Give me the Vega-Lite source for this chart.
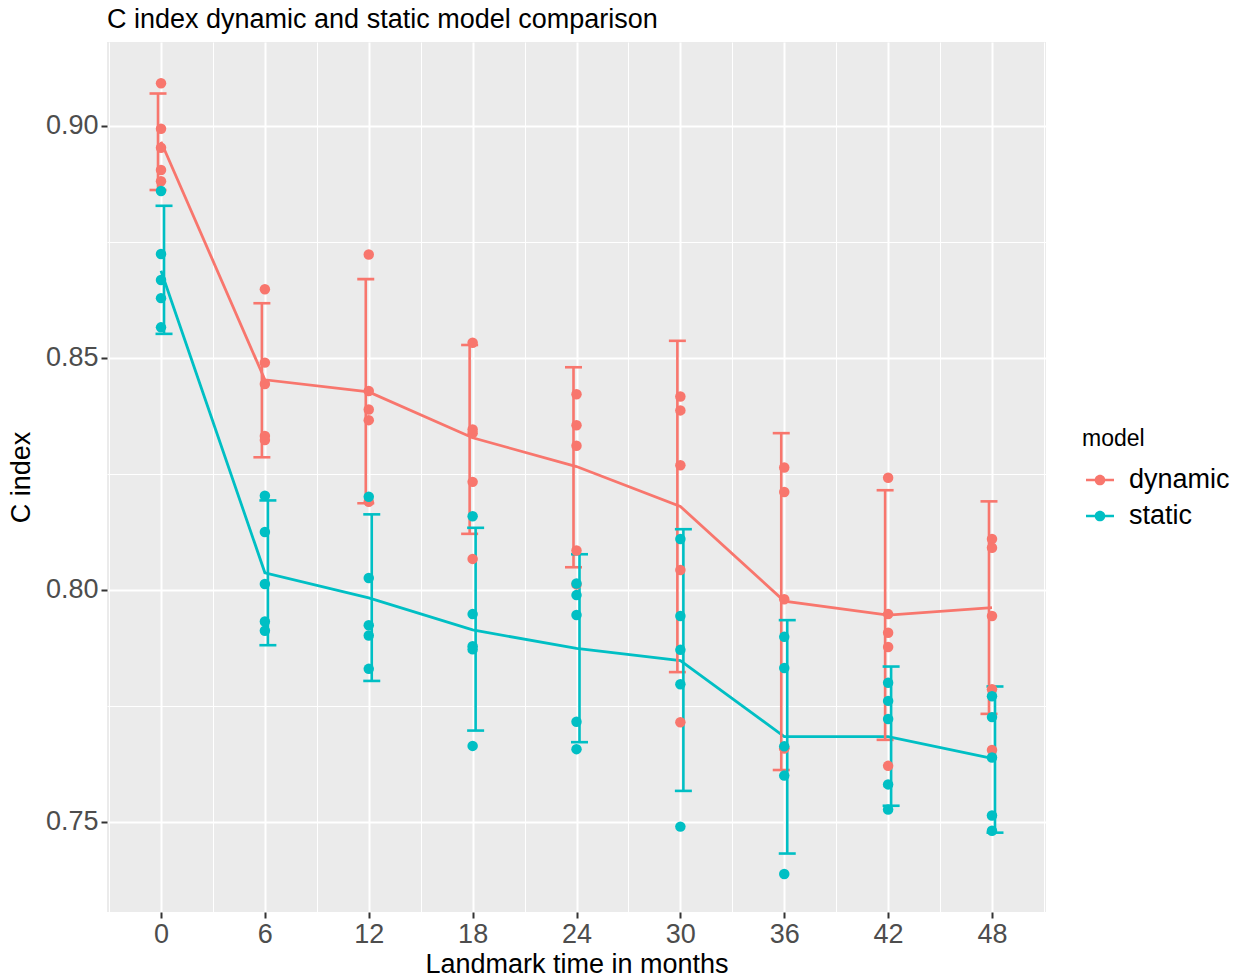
{
  "$schema": "https://vega.github.io/schema/vega-lite/v6.json",
  "width": 939,
  "height": 870,
  "autosize": {"type": "none"},
  "padding": {"left": 107, "top": 42, "right": 194, "bottom": 66},
  "background": "white",
  "title": {
    "text": "C index dynamic and static model comparison",
    "anchor": "start",
    "frame": "group",
    "fontSize": 27,
    "font": "Liberation Sans",
    "fontWeight": "normal",
    "color": "black",
    "baseline": "alphabetic",
    "offset": 15,
    "dy": 28
  },
  "config": {
    "view": {"fill": "#EBEBEB", "stroke": null},
    "font": "Liberation Sans",
    "axis": {
      "domain": false,
      "tickColor": "#333333",
      "tickWidth": 2,
      "tickSize": 6,
      "labelColor": "#4D4D4D",
      "labelFontSize": 27,
      "labelFont": "Liberation Sans",
      "labelPadding": 3,
      "titleFont": "Liberation Sans",
      "titleFontSize": 27,
      "titleFontWeight": "normal",
      "titleColor": "black",
      "gridColor": "white",
      "gridWidth": 2
    }
  },
  "datasets": {
    "pts": [
      {"month": 0, "model": "dynamic", "cindex": 0.9092},
      {"month": 0, "model": "dynamic", "cindex": 0.8994},
      {"month": 0, "model": "dynamic", "cindex": 0.8953},
      {"month": 0, "model": "dynamic", "cindex": 0.8905},
      {"month": 0, "model": "dynamic", "cindex": 0.8881},
      {"month": 6, "model": "dynamic", "cindex": 0.8648},
      {"month": 6, "model": "dynamic", "cindex": 0.8490},
      {"month": 6, "model": "dynamic", "cindex": 0.8444},
      {"month": 6, "model": "dynamic", "cindex": 0.8332},
      {"month": 6, "model": "dynamic", "cindex": 0.8323},
      {"month": 12, "model": "dynamic", "cindex": 0.8723},
      {"month": 12, "model": "dynamic", "cindex": 0.8429},
      {"month": 12, "model": "dynamic", "cindex": 0.8389},
      {"month": 12, "model": "dynamic", "cindex": 0.8366},
      {"month": 12, "model": "dynamic", "cindex": 0.8190},
      {"month": 18, "model": "dynamic", "cindex": 0.8533},
      {"month": 18, "model": "dynamic", "cindex": 0.8346},
      {"month": 18, "model": "dynamic", "cindex": 0.8338},
      {"month": 18, "model": "dynamic", "cindex": 0.8233},
      {"month": 18, "model": "dynamic", "cindex": 0.8067},
      {"month": 24, "model": "dynamic", "cindex": 0.8422},
      {"month": 24, "model": "dynamic", "cindex": 0.8355},
      {"month": 24, "model": "dynamic", "cindex": 0.8311},
      {"month": 24, "model": "dynamic", "cindex": 0.8085},
      {"month": 24, "model": "dynamic", "cindex": 0.8012},
      {"month": 30, "model": "dynamic", "cindex": 0.8417},
      {"month": 30, "model": "dynamic", "cindex": 0.8387},
      {"month": 30, "model": "dynamic", "cindex": 0.8269},
      {"month": 30, "model": "dynamic", "cindex": 0.8043},
      {"month": 30, "model": "dynamic", "cindex": 0.7715},
      {"month": 36, "model": "dynamic", "cindex": 0.8264},
      {"month": 36, "model": "dynamic", "cindex": 0.8211},
      {"month": 36, "model": "dynamic", "cindex": 0.7980},
      {"month": 36, "model": "dynamic", "cindex": 0.7659},
      {"month": 36, "model": "dynamic", "cindex": 0.7659},
      {"month": 42, "model": "dynamic", "cindex": 0.8242},
      {"month": 42, "model": "dynamic", "cindex": 0.7948},
      {"month": 42, "model": "dynamic", "cindex": 0.7908},
      {"month": 42, "model": "dynamic", "cindex": 0.7877},
      {"month": 42, "model": "dynamic", "cindex": 0.7621},
      {"month": 48, "model": "dynamic", "cindex": 0.8110},
      {"month": 48, "model": "dynamic", "cindex": 0.8091},
      {"month": 48, "model": "dynamic", "cindex": 0.7944},
      {"month": 48, "model": "dynamic", "cindex": 0.7786},
      {"month": 48, "model": "dynamic", "cindex": 0.7655},
      {"month": 0, "model": "static", "cindex": 0.8860},
      {"month": 0, "model": "static", "cindex": 0.8724},
      {"month": 0, "model": "static", "cindex": 0.8668},
      {"month": 0, "model": "static", "cindex": 0.8629},
      {"month": 0, "model": "static", "cindex": 0.8566},
      {"month": 6, "model": "static", "cindex": 0.8203},
      {"month": 6, "model": "static", "cindex": 0.8125},
      {"month": 6, "model": "static", "cindex": 0.8013},
      {"month": 6, "model": "static", "cindex": 0.7932},
      {"month": 6, "model": "static", "cindex": 0.7912},
      {"month": 12, "model": "static", "cindex": 0.8201},
      {"month": 12, "model": "static", "cindex": 0.8026},
      {"month": 12, "model": "static", "cindex": 0.7924},
      {"month": 12, "model": "static", "cindex": 0.7902},
      {"month": 12, "model": "static", "cindex": 0.7830},
      {"month": 18, "model": "static", "cindex": 0.8159},
      {"month": 18, "model": "static", "cindex": 0.7948},
      {"month": 18, "model": "static", "cindex": 0.7879},
      {"month": 18, "model": "static", "cindex": 0.7872},
      {"month": 18, "model": "static", "cindex": 0.7664},
      {"month": 24, "model": "static", "cindex": 0.8014},
      {"month": 24, "model": "static", "cindex": 0.7989},
      {"month": 24, "model": "static", "cindex": 0.7946},
      {"month": 24, "model": "static", "cindex": 0.7716},
      {"month": 24, "model": "static", "cindex": 0.7657},
      {"month": 30, "model": "static", "cindex": 0.8110},
      {"month": 30, "model": "static", "cindex": 0.7944},
      {"month": 30, "model": "static", "cindex": 0.7871},
      {"month": 30, "model": "static", "cindex": 0.7797},
      {"month": 30, "model": "static", "cindex": 0.7490},
      {"month": 36, "model": "static", "cindex": 0.7899},
      {"month": 36, "model": "static", "cindex": 0.7832},
      {"month": 36, "model": "static", "cindex": 0.7663},
      {"month": 36, "model": "static", "cindex": 0.7600},
      {"month": 36, "model": "static", "cindex": 0.7388},
      {"month": 42, "model": "static", "cindex": 0.7800},
      {"month": 42, "model": "static", "cindex": 0.7761},
      {"month": 42, "model": "static", "cindex": 0.7722},
      {"month": 42, "model": "static", "cindex": 0.7581},
      {"month": 42, "model": "static", "cindex": 0.7527},
      {"month": 48, "model": "static", "cindex": 0.7771},
      {"month": 48, "model": "static", "cindex": 0.7726},
      {"month": 48, "model": "static", "cindex": 0.7639},
      {"month": 48, "model": "static", "cindex": 0.7514},
      {"month": 48, "model": "static", "cindex": 0.7481}
    ],
    "sum": [
      {"month": 0, "model": "dynamic", "mean": 0.8966, "lo": 0.8862, "hi": 0.9070},
      {"month": 6, "model": "dynamic", "mean": 0.8453, "lo": 0.8286, "hi": 0.8618},
      {"month": 12, "model": "dynamic", "mean": 0.8427, "lo": 0.8187, "hi": 0.8670},
      {"month": 18, "model": "dynamic", "mean": 0.8328, "lo": 0.8121, "hi": 0.8528},
      {"month": 24, "model": "dynamic", "mean": 0.8266, "lo": 0.8049, "hi": 0.8480},
      {"month": 30, "model": "dynamic", "mean": 0.8180, "lo": 0.7823, "hi": 0.8537},
      {"month": 36, "model": "dynamic", "mean": 0.7976, "lo": 0.7612, "hi": 0.8338},
      {"month": 42, "model": "dynamic", "mean": 0.7946, "lo": 0.7677, "hi": 0.8215},
      {"month": 48, "model": "dynamic", "mean": 0.7962, "lo": 0.7733, "hi": 0.8191},
      {"month": 0, "model": "static", "mean": 0.8688, "lo": 0.8552, "hi": 0.8828},
      {"month": 6, "model": "static", "mean": 0.8037, "lo": 0.7881, "hi": 0.8193},
      {"month": 12, "model": "static", "mean": 0.7983, "lo": 0.7804, "hi": 0.8163},
      {"month": 18, "model": "static", "mean": 0.7914, "lo": 0.7697, "hi": 0.8134},
      {"month": 24, "model": "static", "mean": 0.7874, "lo": 0.7672, "hi": 0.8077},
      {"month": 30, "model": "static", "mean": 0.7848, "lo": 0.7567, "hi": 0.8131},
      {"month": 36, "model": "static", "mean": 0.7684, "lo": 0.7432, "hi": 0.7935},
      {"month": 42, "model": "static", "mean": 0.7684, "lo": 0.7535, "hi": 0.7835},
      {"month": 48, "model": "static", "mean": 0.7637, "lo": 0.7477, "hi": 0.7792}
    ]
  },
  "resolve": {"axis": {"x": "independent", "y": "independent"}},
  "layer": [
    {
      "data": {"name": "sum"},
      "mark": {"type": "point", "opacity": 0},
      "encoding": {
        "x": {"field": "month", "type": "quantitative", "scale": {"domain": [-3.12, 51.12], "nice": false, "zero": false},
          "axis": {"values": [-3, 3, 9, 15, 21, 27, 33, 39, 45, 51], "grid": true, "gridWidth": 1, "labels": false, "ticks": false, "domain": false, "title": null, "orient": "bottom"}},
        "y": {"field": "mean", "type": "quantitative", "scale": {"domain": [0.7306, 0.9181], "nice": false, "zero": false},
          "axis": {"values": [0.775, 0.825, 0.875], "grid": true, "gridWidth": 1, "labels": false, "ticks": false, "domain": false, "title": null, "orient": "left"}}
      }
    },
    {
      "data": {"name": "sum"},
      "mark": {"type": "line", "strokeWidth": 2.8},
      "encoding": {
        "x": {"field": "month", "type": "quantitative",
          "axis": {"values": [0, 6, 12, 18, 24, 30, 36, 42, 48], "grid": true, "title": "Landmark time in months", "titlePadding": 4, "orient": "bottom"}},
        "y": {"field": "mean", "type": "quantitative",
          "axis": {"values": [0.75, 0.8, 0.85, 0.9], "format": ".2f", "grid": true, "title": "C index", "titlePadding": 10, "orient": "left"}},
        "color": {"field": "model", "type": "nominal",
          "scale": {"domain": ["dynamic", "static"], "range": ["#F8766D", "#00BFC4"]},
          "legend": {
            "orient": "none", "legendX": 975, "legendY": 386, "padding": 0,
            "title": "model", "titleFontSize": 23, "titleFont": "Liberation Sans", "titleFontWeight": "normal", "titleColor": "black", "titlePadding": 15,
            "labelFontSize": 27, "labelFont": "Liberation Sans", "labelColor": "black", "labelOffset": 15,
            "symbolType": "M-1,-0.085H-0.3V0.085H-1Z M0.3,-0.085H1V0.085H0.3Z M0.38,0A0.38,0.38,0,1,1,-0.38,0A0.38,0.38,0,1,1,0.38,0Z",
            "symbolSize": 784, "symbolStrokeWidth": 0, "symbolOffset": 4, "rowPadding": 9,
            "encode": {"symbols": {"update": {"fill": {"scale": "color", "field": "value"}, "stroke": {"value": "transparent"}, "opacity": {"value": 1}}}}
          }}
      }
    },
    {
      "data": {"name": "sum"},
      "transform": [{"filter": "datum.model == 'dynamic'"}],
      "mark": {"type": "rule", "strokeWidth": 2.6, "xOffset": -3},
      "encoding": {
        "x": {"field": "month", "type": "quantitative", "axis": null},
        "y": {"field": "lo", "type": "quantitative", "axis": null},
        "y2": {"field": "hi"},
        "color": {"field": "model", "type": "nominal"}
      }
    },
    {
      "data": {"name": "sum"},
      "transform": [{"filter": "datum.model == 'dynamic'"}, {"fold": ["lo", "hi"], "as": ["end", "val"]}],
      "mark": {"type": "tick", "orient": "horizontal", "size": 17, "thickness": 2.6, "xOffset": -3, "opacity": 1},
      "encoding": {
        "x": {"field": "month", "type": "quantitative", "axis": null},
        "y": {"field": "val", "type": "quantitative", "axis": null},
        "color": {"field": "model", "type": "nominal"}
      }
    },
    {
      "data": {"name": "sum"},
      "transform": [{"filter": "datum.model == 'static'"}],
      "mark": {"type": "rule", "strokeWidth": 2.6, "xOffset": 3},
      "encoding": {
        "x": {"field": "month", "type": "quantitative", "axis": null},
        "y": {"field": "lo", "type": "quantitative", "axis": null},
        "y2": {"field": "hi"},
        "color": {"field": "model", "type": "nominal"}
      }
    },
    {
      "data": {"name": "sum"},
      "transform": [{"filter": "datum.model == 'static'"}, {"fold": ["lo", "hi"], "as": ["end", "val"]}],
      "mark": {"type": "tick", "orient": "horizontal", "size": 17, "thickness": 2.6, "xOffset": 3, "opacity": 1},
      "encoding": {
        "x": {"field": "month", "type": "quantitative", "axis": null},
        "y": {"field": "val", "type": "quantitative", "axis": null},
        "color": {"field": "model", "type": "nominal"}
      }
    },
    {
      "data": {"name": "pts"},
      "mark": {"type": "circle", "size": 110, "opacity": 1},
      "encoding": {
        "x": {"field": "month", "type": "quantitative", "axis": null},
        "y": {"field": "cindex", "type": "quantitative", "axis": null},
        "color": {"field": "model", "type": "nominal"}
      }
    }
  ]
}
